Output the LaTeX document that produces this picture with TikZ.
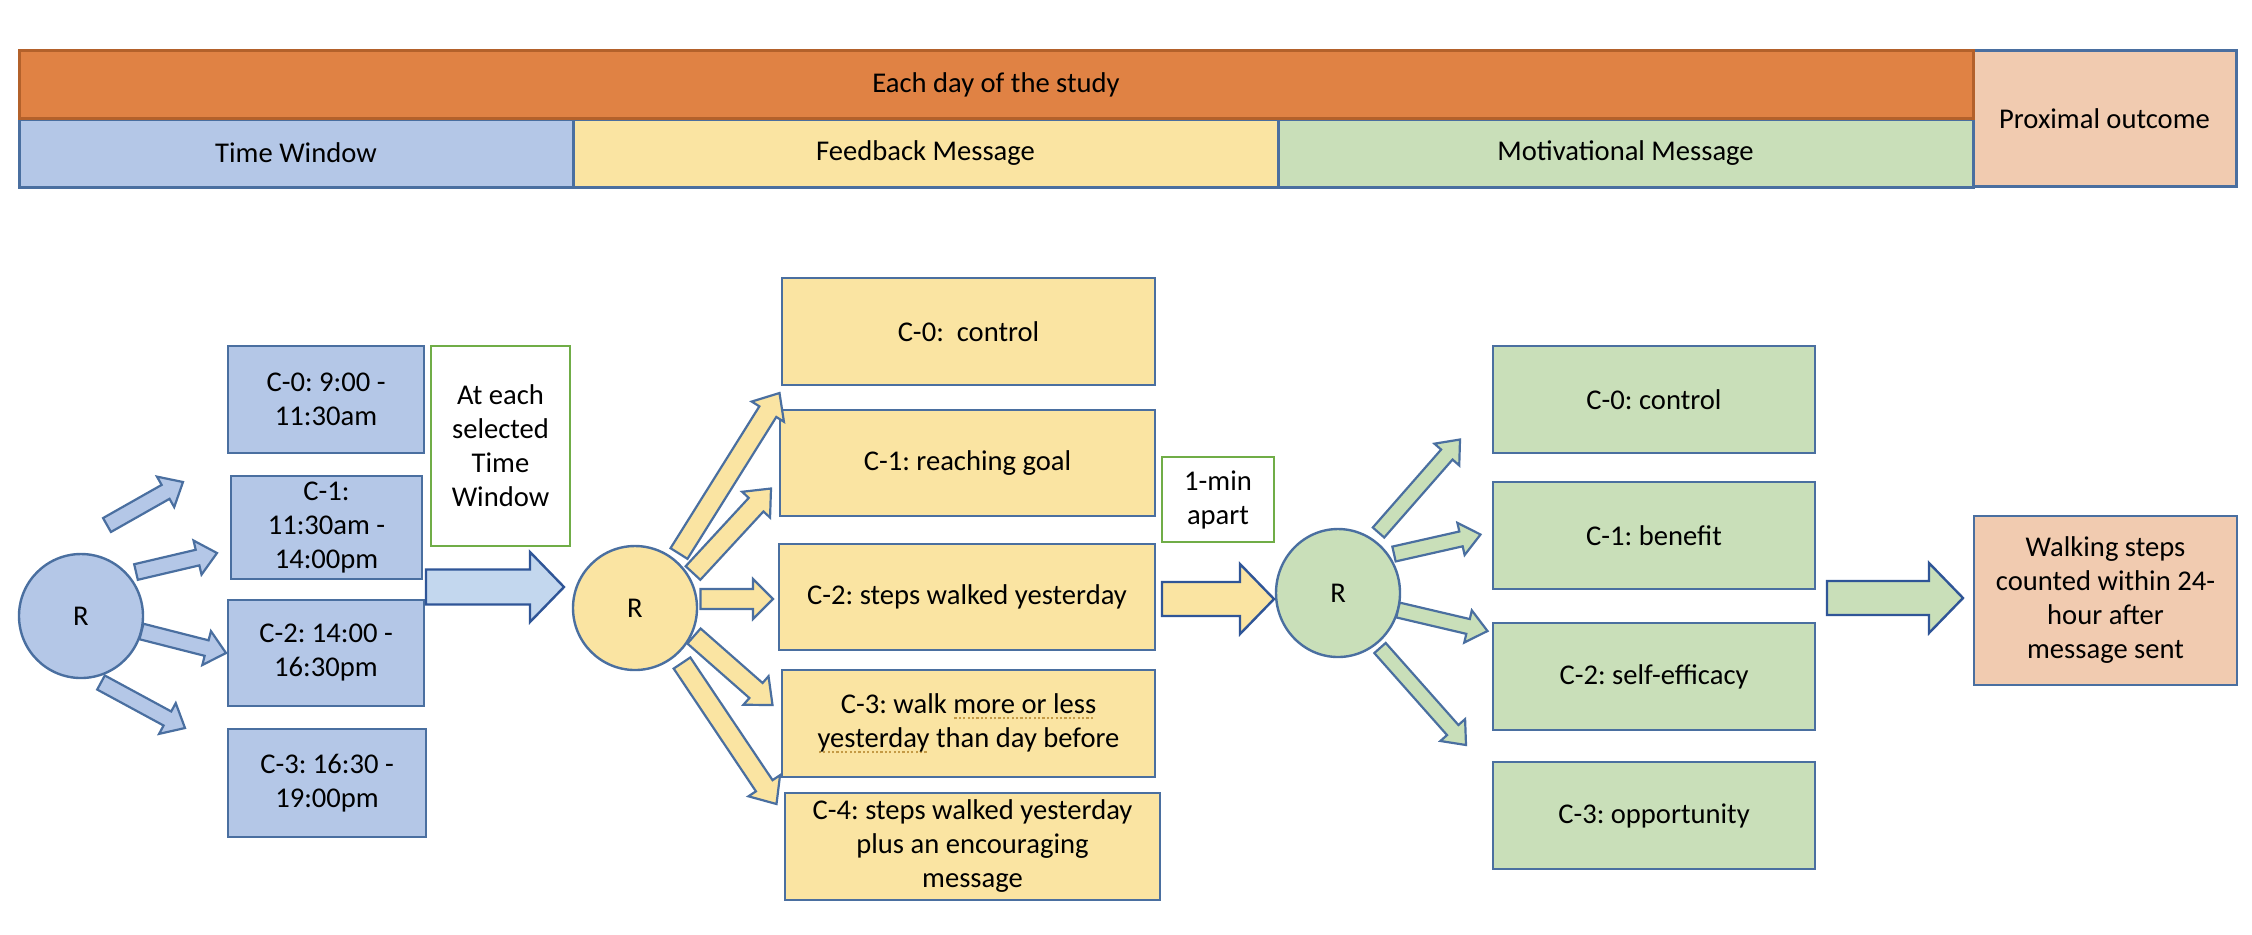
\documentclass[tikz,border=0pt]{standalone}
\usepackage{fontspec}
\setmainfont{Carlito}
\usetikzlibrary{calc,shapes.geometric}
\frenchspacing
\definecolor{blueFill}{HTML}{B4C7E7}
\definecolor{blueLine}{HTML}{4A6FA0}
\definecolor{yellowFill}{HTML}{FAE4A2}
\definecolor{greenFill}{HTML}{C9DFB9}
\definecolor{peachFill}{HTML}{F1CBB0}
\definecolor{orangeFill}{HTML}{E08244}
\definecolor{orangeLine}{HTML}{B3612B}
\definecolor{bigBlueFill}{HTML}{C3D7EE}
\definecolor{darkBlue}{HTML}{2F5597}
\definecolor{noteLine}{HTML}{70AD47}
\definecolor{squigCol}{HTML}{C49A45}
\newcommand\fs{\fontsize{14.3pt}{17pt}\selectfont}
\newcommand\squig[1]{\setbox0\hbox{#1}\rlap{\raisebox{-3pt}{\color{squigCol}\hbox to \wd0{\leaders\hbox to 2.2pt{\hss\rule{1.1pt}{1.1pt}\hss}\hfill}}}\box0\relax}
\newcommand\blockarr[6]{%
  \coordinate (babase) at ($(#2)!#5!(#1)$);
  \draw[#6] ($(#1)!#3!90:(#2)$) -- ($(babase)!#3!90:(#2)$) -- ($(babase)!#4!90:(#2)$) -- (#2)
    -- ($(babase)!#4!-90:(#2)$) -- ($(babase)!#3!-90:(#2)$) -- ($(#1)!#3!-90:(#2)$) -- cycle;}
\tikzset{
  base/.style={draw, line width=1.2pt, font=\fs, align=center, inner sep=0pt, text=black},
  bluebox/.style={base, fill=blueFill, draw=blueLine},
  yellowbox/.style={base, fill=yellowFill, draw=blueLine},
  greenbox/.style={base, fill=greenFill, draw=blueLine},
  peachbox/.style={base, fill=peachFill, draw=blueLine},
  notebox/.style={base, fill=white, draw=noteLine},
  headorange/.style={base, fill=orangeFill, draw=orangeLine, line width=1.5pt},
  headcell/.style={base, draw=blueLine, line width=1.5pt},
  rcircle/.style={base, ellipse},
  smallarrowB/.style={fill=blueFill, draw=blueLine, line width=1.1pt},
  smallarrowY/.style={fill=yellowFill, draw=blueLine, line width=1.1pt},
  smallarrowG/.style={fill=greenFill, draw=blueLine, line width=1.1pt},
  bigarrowB/.style={fill=bigBlueFill, draw=darkBlue, line width=1.2pt},
  bigarrowY/.style={fill=yellowFill, draw=darkBlue, line width=1.2pt},
  bigarrowG/.style={fill=greenFill, draw=darkBlue, line width=1.2pt},
}
\begin{document}
\begin{tikzpicture}[x=0.5pt,y=-0.5pt]
\useasboundingbox (0,0) rectangle (2252,934);
% header
\node[headcell, fill=blueFill, minimum width=277pt, minimum height=34pt] (hTW) at (296,153) {Time Window};
\node[headcell, fill=yellowFill, minimum width=352.5pt, minimum height=34pt] (hFB) at (925.5,153) {Feedback Message};
\node[headcell, fill=greenFill, minimum width=347.5pt, minimum height=34pt] (hMM) at (1625.5,153) {Motivational Message};
\node[headcell, fill=peachFill, minimum width=131.5pt, minimum height=68pt] (hPO) at (2104.5,118.5) {Proximal outcome};
\node[headorange, minimum width=977pt, minimum height=34pt] (hDay) at (996,84.5) {Each day of the study};
% time window section
\node[rcircle, fill=blueFill, draw=blueLine, minimum width=62pt, minimum height=62pt] (R1) at (81,616) {R};
\node[bluebox, minimum width=98pt, minimum height=53.5pt] (b0) at (326,399.5) {C-0: 9:00 -\\11:30am};
\node[bluebox, minimum width=95.5pt, minimum height=51.5pt] (b1) at (326.5,527.5) {C-1:\\11:30am -\\14:00pm};
\node[bluebox, minimum width=98pt, minimum height=53pt] (b2) at (326,653) {C-2: 14:00 -\\16:30pm};
\node[bluebox, minimum width=99pt, minimum height=54pt] (b3) at (327,783) {C-3: 16:30 -\\19:00pm};
\node[notebox, minimum width=69.5pt, minimum height=100pt] (atw) at (500.5,446) {At each\\selected\\Time\\Window};
% feedback section
\node[rcircle, fill=yellowFill, draw=blueLine, minimum width=62pt, minimum height=62pt] (R2) at (635,608) {R};
\node[yellowbox, minimum width=186.5pt, minimum height=53.5pt] (y0) at (968.5,331.5) {C-0:~ control};
\node[yellowbox, minimum width=187.5pt, minimum height=53pt] (y1) at (967.5,463) {C-1: reaching goal};
\node[yellowbox, minimum width=188pt, minimum height=53pt] (y2) at (967,597) {C-2: steps walked yesterday};
\node[yellowbox, minimum width=186.5pt, minimum height=53.5pt] (y3) at (968.5,723.5) {C-3: walk \squig{more or less}\\\squig{yesterday} than day before};
\node[yellowbox, minimum width=187.5pt, minimum height=53.5pt] (y4) at (972.5,846.5) {C-4: steps walked yesterday\\plus an encouraging\\message};
\node[notebox, minimum width=56pt, minimum height=42.5pt] (gap) at (1218,499.5) {1-min\\apart};
% motivational section
\node[rcircle, fill=greenFill, draw=blueLine, minimum width=62pt, minimum height=64pt] (R3) at (1338,593) {R};
\node[greenbox, minimum width=161pt, minimum height=53.5pt] (g0) at (1654,399.5) {C-0: control};
\node[greenbox, minimum width=161pt, minimum height=53.5pt] (g1) at (1654,535.5) {C-1: benefit};
\node[greenbox, minimum width=161pt, minimum height=53.5pt] (g2) at (1654,676.5) {C-2: self-efficacy};
\node[greenbox, minimum width=161pt, minimum height=53.5pt] (g3) at (1654,815.5) {C-3: opportunity};
\node[peachbox, minimum width=131.5pt, minimum height=84.5pt] (out) at (2105.5,600.5) {Walking steps\\counted within 24-\\hour after\\message sent};
% arrow end points
\coordinate (ba0t) at (107,525);   \coordinate (ba0h) at (183,482);
\coordinate (ba1t) at (136,572);   \coordinate (ba1h) at (217,553);
\coordinate (ba2t) at (141.5,631.5); \coordinate (ba2h) at (226,653);
\coordinate (ba3t) at (101,682.5); \coordinate (ba3h) at (185,728);
\coordinate (bigBt) at (426,587);  \coordinate (bigBh) at (564,587);
\coordinate (ya0t) at (679,553.5); \coordinate (ya0h) at (779.5,393);
\coordinate (ya1t) at (693,573);   \coordinate (ya1h) at (771,488.5);
\coordinate (ya2t) at (700.5,599); \coordinate (ya2h) at (773,599);
\coordinate (ya3t) at (694,636);   \coordinate (ya3h) at (772.5,705);
\coordinate (ya4t) at (682,663);   \coordinate (ya4h) at (776.5,804);
\coordinate (bigYt) at (1162,599); \coordinate (bigYh) at (1274,599);
\coordinate (ga0t) at (1378.5,532.5); \coordinate (ga0h) at (1460,439.5);
\coordinate (ga1t) at (1394,554);  \coordinate (ga1h) at (1480.5,534.5);
\coordinate (ga2t) at (1398,610);  \coordinate (ga2h) at (1487.5,631);
\coordinate (ga3t) at (1380,648);  \coordinate (ga3h) at (1466,745);
\coordinate (bigGt) at (1827,598); \coordinate (bigGh) at (1963,598);
% arrows
\blockarr{ba0t}{ba0h}{4pt}{8.75pt}{10pt}{smallarrowB}
\blockarr{ba1t}{ba1h}{4pt}{8.75pt}{10pt}{smallarrowB}
\blockarr{ba2t}{ba2h}{4pt}{8.75pt}{10pt}{smallarrowB}
\blockarr{ba3t}{ba3h}{4pt}{8.75pt}{10pt}{smallarrowB}
\blockarr{bigBt}{bigBh}{8.75pt}{17.5pt}{17pt}{bigarrowB}
\blockarr{ya0t}{ya0h}{5pt}{9.5pt}{11pt}{smallarrowY}
\blockarr{ya1t}{ya1h}{5pt}{9.5pt}{11pt}{smallarrowY}
\blockarr{ya2t}{ya2h}{5pt}{10pt}{10pt}{smallarrowY}
\blockarr{ya3t}{ya3h}{5pt}{9.5pt}{11pt}{smallarrowY}
\blockarr{ya4t}{ya4h}{5pt}{9.5pt}{11pt}{smallarrowY}
\blockarr{bigYt}{bigYh}{8.5pt}{17.5pt}{17pt}{bigarrowY}
\blockarr{ga0t}{ga0h}{3.8pt}{8.25pt}{10pt}{smallarrowG}
\blockarr{ga1t}{ga1h}{3.8pt}{8.25pt}{10pt}{smallarrowG}
\blockarr{ga2t}{ga2h}{3.8pt}{8.25pt}{10pt}{smallarrowG}
\blockarr{ga3t}{ga3h}{3.8pt}{8.25pt}{10pt}{smallarrowG}
\blockarr{bigGt}{bigGh}{8.5pt}{17.5pt}{17pt}{bigarrowG}
\end{tikzpicture}
\end{document}
